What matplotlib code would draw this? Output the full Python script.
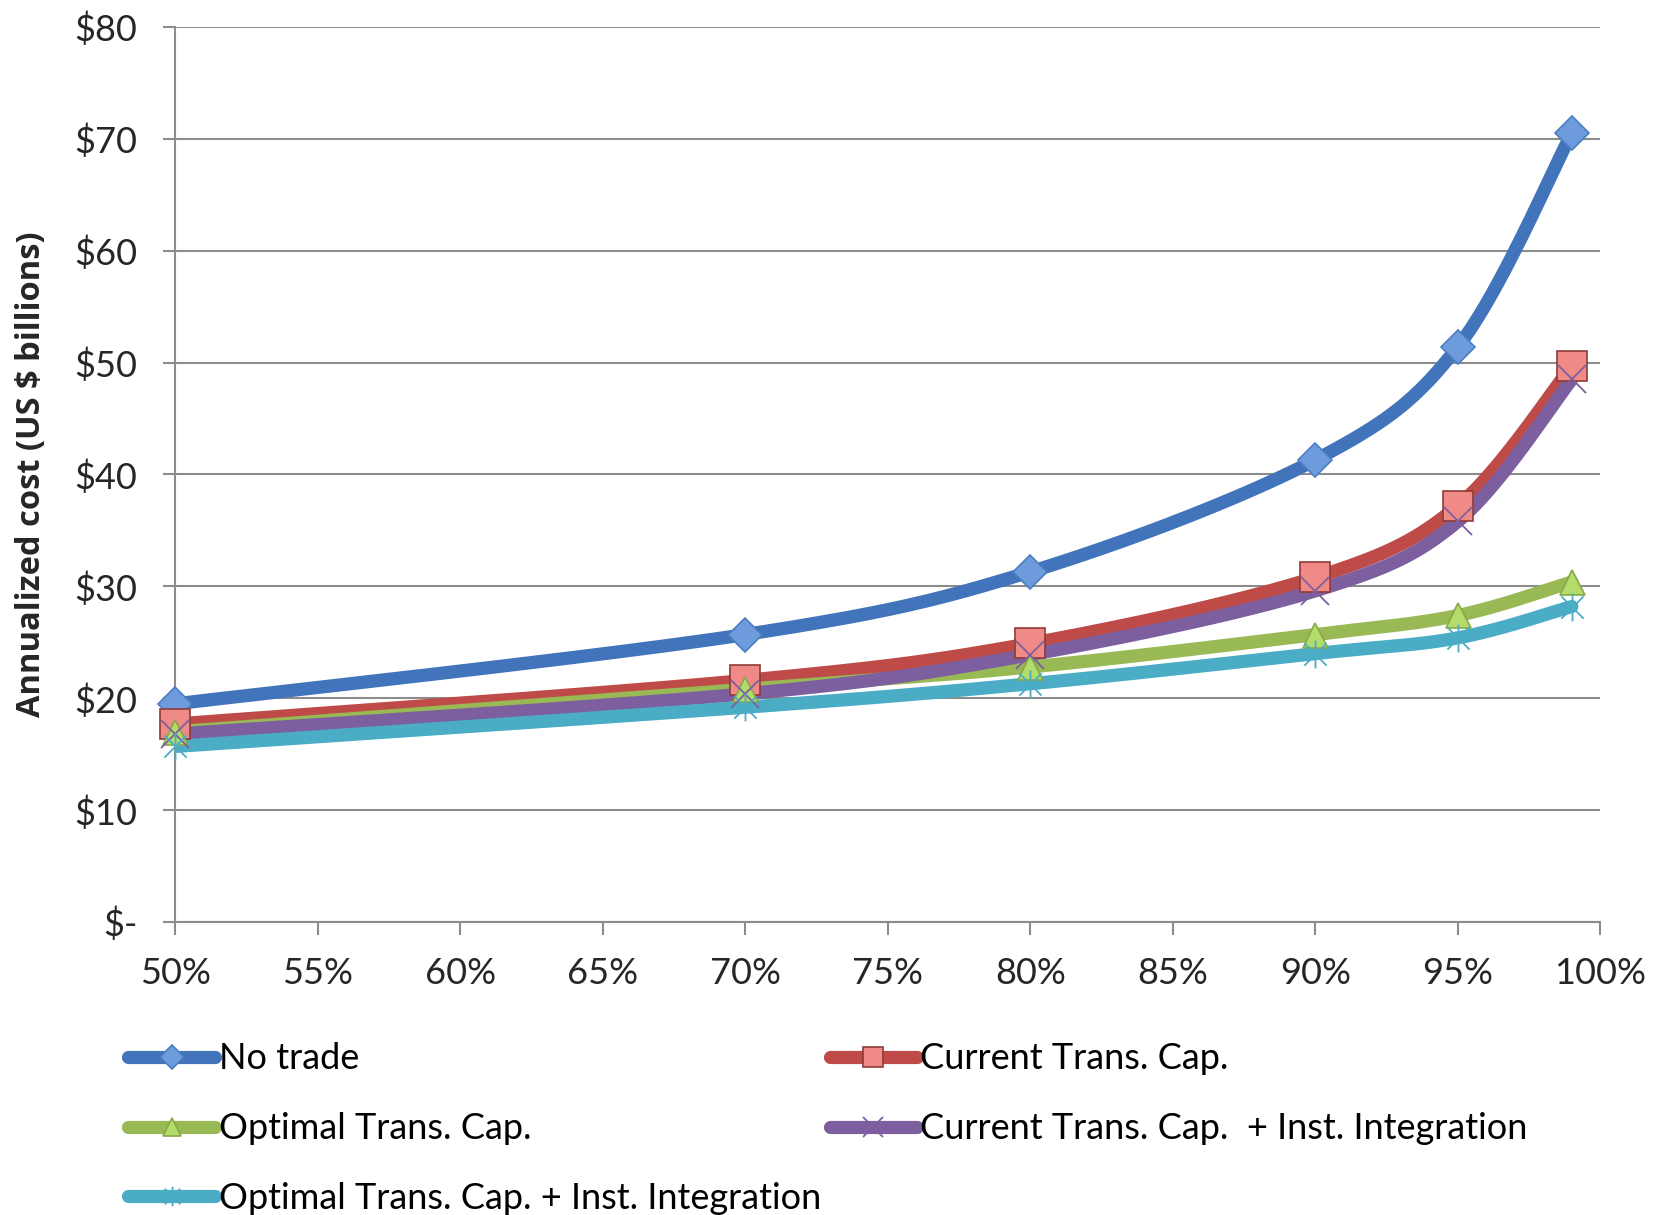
import numpy as np
import matplotlib.pyplot as plt
from matplotlib.path import Path
from matplotlib.ticker import FuncFormatter

plt.rcParams['font.family'] = ['Lato', 'DejaVu Sans']

# share of renewables (%)
share = [50, 70, 80, 90, 95, 99]

no_trade = [19.5, 25.7, 31.3, 41.3, 51.4, 70.5]
current_cap = [17.7, 21.6, 24.9, 30.8, 37.2, 49.7]
optimal_cap = [17.0, 20.8, 22.8, 25.7, 27.4, 30.4]
current_inst = [16.8, 20.4, 23.9, 29.6, 35.8, 48.5]
optimal_inst = [15.7, 19.2, 21.3, 24.0, 25.4, 28.2]

labels = ["No trade", "Current Trans. Cap.", "Optimal Trans. Cap.",
          "Current Trans. Cap.  + Inst. Integration",
          "Optimal Trans. Cap. + Inst. Integration"]

# asterisk marker like Excel's "star"
star = Path([(-1, -1), (1, 1), (-1, 1), (1, -1), (0, -1.25), (0, 1.25)],
            [Path.MOVETO, Path.LINETO, Path.MOVETO, Path.LINETO, Path.MOVETO, Path.LINETO])

styles = [
    dict(color="#4174BA", marker="D", ms=17, mfc="#6D9BDC", mec="#4A7EC0", mew=1.2),
    dict(color="#BE4B48", marker="s", ms=21, mfc="#F08A87", mec="#8E3B39", mew=1.2),
    dict(color="#98B954", marker="^", ms=18, mfc="#B4DC6A", mec="#88A84A", mew=1.2),
    dict(color="#7D5FA0", marker="x", ms=20, mfc="none", mec="#7D5FA0", mew=1.3),
    dict(color="#4BACC6", marker=star, ms=20, mfc="none", mec="#4BACC6", mew=1.3),
]


def smooth(x, y, n=40):
    # Catmull-Rom style smoothing, close to Excel's smoothed line
    pts = np.column_stack([x, y]).astype(float)
    p = np.vstack([pts[0], pts, pts[-1]])
    out = []
    for i in range(1, len(p) - 2):
        p0, p1, p2, p3 = p[i - 1], p[i], p[i + 1], p[i + 2]
        c1 = p1 + (p2 - p0) / 6
        c2 = p2 - (p3 - p1) / 6
        t = np.linspace(0, 1, n)[:, None]
        seg = ((1 - t) ** 3) * p1 + 3 * ((1 - t) ** 2) * t * c1 + 3 * (1 - t) * t ** 2 * c2 + t ** 3 * p2
        out.append(seg)
    out = np.vstack(out)
    return out[:, 0], out[:, 1]


fig = plt.figure(figsize=(16.67, 12.15), dpi=100)
ax = fig.add_axes([0.105, 0.241, 0.855, 0.737])

series = [no_trade, current_cap, optimal_cap, current_inst, optimal_inst]
handles = []
for vals, st, lab in zip(series, styles, labels):
    sx, sy = smooth(share, vals)
    ax.plot(sx, sy, color=st["color"], lw=9.5, solid_capstyle="round", zorder=3)
    ax.plot(share, vals, ls="none", marker=st["marker"], ms=st["ms"],
            mfc=st["mfc"], mec=st["mec"], mew=st["mew"], zorder=4, clip_on=False)
    h, = ax.plot([], [], color=st["color"], lw=9.5, solid_capstyle="round",
                 marker=st["marker"], ms=st["ms"] * 0.7, mfc=st["mfc"],
                 mec=st["mec"], mew=st["mew"], label=lab)
    handles.append(h)

ax.set_xlim(50, 100)
ax.set_ylim(0, 80)
ax.set_xticks(np.arange(50, 101, 5))
ax.set_yticks(np.arange(0, 81, 10))
ax.xaxis.set_major_formatter(FuncFormatter(lambda v, p: f"{v:.0f}%"))
ax.yaxis.set_major_formatter(FuncFormatter(lambda v, p: "$-" if v == 0 else f"${v:.0f}"))
ax.grid(axis="y", color="#8C8C8C", lw=1.5)
ax.set_axisbelow(True)
for s in ["top", "right"]:
    ax.spines[s].set_visible(False)
for s in ["left", "bottom"]:
    ax.spines[s].set_color("#8C8C8C")
    ax.spines[s].set_linewidth(1.5)
ax.tick_params(axis="both", colors="#8C8C8C", width=1.5, length=9, labelsize=26,
               labelcolor="#262626")
ax.tick_params(axis="y", pad=18)
ax.tick_params(axis="x", pad=16)
ax.set_ylabel("Annualized cost (US $ billions)", fontsize=23.5, fontweight="bold",
              color="#262626", family=["Open Sans", "DejaVu Sans"])
ax.yaxis.set_label_coords(-0.089, 0.5)

leg_kw = dict(frameon=False, fontsize=26, handlelength=2.4, handletextpad=0.1,
              labelspacing=1.02, borderaxespad=0, borderpad=0)
fig.legend(handles=[handles[0], handles[2], handles[4]],
           loc="upper left", bbox_to_anchor=(0.077, 0.142), **leg_kw)
fig.legend(handles=[handles[1], handles[3]],
           loc="upper left", bbox_to_anchor=(0.498, 0.142), **leg_kw)

fig.savefig("out.png", dpi=100, facecolor="white")
